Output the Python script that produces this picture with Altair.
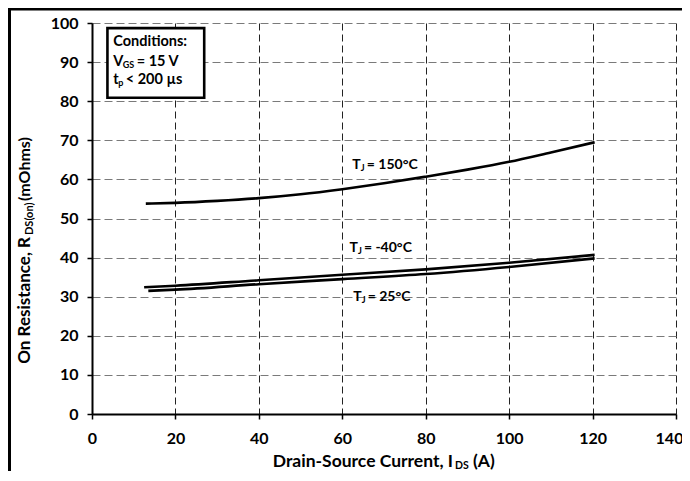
import altair as alt
import pandas as pd

# ---- data ----
ids_150 = [12.9, 20, 30, 40, 50, 60, 70, 80, 90, 100, 110, 120.5]
rds_150 = [53.8, 54.0, 54.5, 55.2, 56.2, 57.5, 59.0, 60.7, 62.5, 64.5, 66.9, 69.5]
ids_m40 = [12.5, 20, 40, 60, 80, 100, 120.5]
rds_m40 = [32.4, 32.8, 34.2, 35.6, 37.0, 38.7, 40.7]
ids_25 = [13.5, 20, 40, 60, 80, 100, 120.5]
rds_25 = [31.5, 31.8, 33.2, 34.5, 35.8, 37.6, 39.8]

x_ticks = [0, 20, 40, 60, 80, 100, 120, 140]
y_ticks = [0, 10, 20, 30, 40, 50, 60, 70, 80, 90, 100]

FONT = "Lato"

rows = []
for name, xs, ys in [("150", ids_150, rds_150), ("-40", ids_m40, rds_m40), ("25", ids_25, rds_25)]:
    for a, b in zip(xs, ys):
        rows.append({"series": name, "ids": a, "rds": b})
df = pd.DataFrame(rows)

xscale = alt.Scale(domain=[0, 140], nice=False)
yscale = alt.Scale(domain=[0, 100], nice=False)

def X(field="ids"):
    return alt.X(f"{field}:Q", scale=xscale, title=None,
                 axis=alt.Axis(values=x_ticks, grid=True, gridColor="#222222",
                               gridDash=[7, 4], gridWidth=1, labelFlush=False,
                               labelOffset={"condition": {"test": "datum.value == 140", "value": -7},
                                            "value": 0}))

def Y(field="rds"):
    return alt.Y(f"{field}:Q", scale=yscale, title=None,
                 axis=alt.Axis(values=y_ticks, grid=True, gridColor="#7a7a7a",
                               gridDash=[8, 4], gridWidth=1, labelFlush=False))

lines = alt.Chart(df).mark_line(color="black", strokeWidth=2.6, interpolate="monotone").encode(
    x=X(), y=Y(), detail="series:N"
)

one = pd.DataFrame({"k": [0]})

def ptext(text, x, y, size, angle=0, align="left"):
    return alt.Chart(one).mark_text(
        text=text, font=FONT, fontSize=size, fontWeight="bold", color="black",
        align=align, baseline="middle", angle=angle
    ).encode(x=alt.value(x), y=alt.value(y))

def dtext(text, xv, yv, size, dx=0, dy=0):
    d = pd.DataFrame({"ids": [xv], "rds": [yv]})
    return alt.Chart(d).mark_text(
        text=text, font=FONT, fontSize=size, fontWeight="bold", color="black",
        align="left", baseline="middle", dx=dx, dy=dy
    ).encode(x=X(), y=Y())

# conditions box
box_df = pd.DataFrame({"ids": [3.7], "ids2": [26.9], "rds": [98.7], "rds2": [80.9]})
box = alt.Chart(box_df).mark_rect(fill="white", stroke="black", strokeWidth=2.6).encode(
    x=X(), x2="ids2:Q", y=Y(), y2="rds2:Q"
)

layers = [lines, box]

# box text
layers += [
    dtext("Conditions:", 5.1, 95.1, 14.5),
    dtext("V", 5.1, 90.1, 14.5),
    dtext("GS", 5.1, 90.1, 9, dx=9.5, dy=3),
    dtext("= 15 V", 5.1, 90.1, 14.5, dx=23.5),
    dtext("t", 5.1, 85.4, 14.5),
    dtext("p", 5.1, 85.4, 9, dx=5, dy=3),
    dtext("< 200 µs", 5.1, 85.4, 14.5, dx=12.5),
]

# curve labels
for xv, yv, rest in [(62.4, 63.6, "= 150°C"), (61.7, 42.5, "= -40°C"), (62.6, 29.8, "= 25°C")]:
    layers += [
        dtext("T", xv, yv, 14),
        dtext("J", xv, yv, 9, dx=8.5, dy=3),
        dtext(rest, xv, yv, 14, dx=14.5),
    ]

# axis titles with subscripts
layers += [
    ptext("Drain-Source Current, I", 361, 439, 17.5, align="right"),
    ptext("DS", 363, 443, 10.5),
    ptext("(A)", 381, 439, 17.5),
    ptext("On Resistance, R", -67, 214, 17, angle=270, align="right"),
    ptext("DS(on)", -62, 212, 11, angle=270),
    ptext("(mOhms)", -67, 178, 16, angle=270),
]

# outer frame (left and top edges visible)
frame_left = alt.Chart(one).mark_rule(color="black", strokeWidth=3).encode(
    x=alt.value(-82.5), y=alt.value(-14), y2=alt.value(470)
)
frame_top = alt.Chart(one).mark_rule(color="black", strokeWidth=3).encode(
    x=alt.value(-84), x2=alt.value(700), y=alt.value(-14)
)
layers += [frame_left, frame_top]

chart = alt.layer(*layers).properties(
    width=584, height=391,
    autosize=alt.AutoSizeParams(type="none"),
    padding={"left": 84, "top": 15, "right": 6, "bottom": 57},
).configure_view(strokeWidth=0).configure_axis(
    domainColor="black", domainWidth=2, tickColor="black", tickWidth=1.5, tickSize=5,
    labelFont=FONT, labelFontSize=16, labelFontWeight="bold", labelColor="black",
).configure_axisX(labelPadding=11).configure_axisY(labelPadding=9)

chart.save("out.html", embed_options={"renderer": "svg", "actions": False})
